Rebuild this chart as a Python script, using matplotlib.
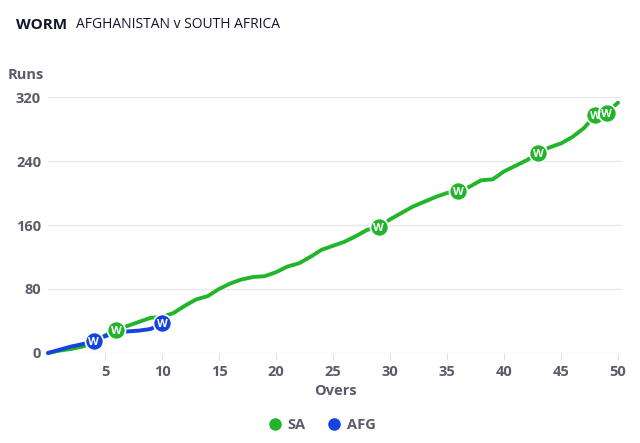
import numpy as np
import matplotlib
matplotlib.use("Agg")
import matplotlib.pyplot as plt
from matplotlib.lines import Line2D

plt.rcParams['font.family'] = ['Open Sans', 'DejaVu Sans']

# runs at the end of each over
sa_overs = list(range(0, 51))
sa_runs = [0, 3, 5, 8, 12, 22, 29, 34, 39, 44,
           45, 50, 59, 67, 71, 80, 87, 92, 95, 96,
           101, 108, 112, 120, 129, 134, 139, 146, 154, 157,
           167, 175, 183, 189, 195, 200, 202, 208, 216, 217,
           227, 234, 241, 250, 257, 262, 270, 281, 297, 300,
           313]
sa_wkts = [6, 29, 36, 43, 48, 49]

afg_overs = list(range(0, 11))
afg_runs = [0, 4, 8, 11, 15, 21, 25, 27, 28, 30, 37]
afg_wkts = [4, 10]

green = '#22b52c'
blue = '#1444e0'
grey = '#5b5b6b'

fig = plt.figure(figsize=(6.4, 4.43), dpi=100)
ax = fig.add_axes([48 / 640, 90 / 443, 574 / 640, 256 / 443])

ax.plot(sa_overs, sa_runs, color=green, lw=2.8, solid_capstyle='round', zorder=3, clip_on=False)
ax.plot(afg_overs, afg_runs, color=blue, lw=2.8, solid_capstyle='round', zorder=4, clip_on=False)


def wicket_marks(overs, runs, wkts, col, z):
    for w in wkts:
        y = runs[overs.index(w)]
        ax.plot(w, y, 'o', ms=13, color=col, mec='white', mew=1.2, zorder=z, clip_on=False)
        ax.text(w, y, 'W', color='white', fontsize=8, fontweight='bold',
                ha='center', va='center_baseline', zorder=z + 1)


wicket_marks(sa_overs, sa_runs, sa_wkts, green, 5)
wicket_marks(afg_overs, afg_runs, afg_wkts, blue, 7)

ax.set_xlim(0, 50.35)
ax.set_ylim(0, 320)
ax.set_xticks(range(5, 51, 5))
ax.set_yticks([0, 80, 160, 240, 320])
ax.grid(True, axis='y', color='#e8e8ec', lw=1)
ax.set_axisbelow(True)
for s in ax.spines.values():
    s.set_visible(False)
ax.tick_params(axis='y', length=0, pad=5, labelsize=10.5, labelcolor=grey)
ax.tick_params(axis='x', length=5, color='#e0e0e6', pad=4, labelsize=10.5, labelcolor=grey)
for lab in ax.get_xticklabels() + ax.get_yticklabels():
    lab.set_fontweight('bold')

ax.set_xlabel('Overs', fontsize=10.5, fontweight='bold', color=grey, labelpad=3)
fig.text(44 / 640, 1 - 75 / 443, 'Runs', fontsize=10.5, fontweight='bold', color=grey,
         ha='right', va='center')

fig.text(16 / 640, 1 - 25 / 443, 'WORM', fontsize=11, fontweight='bold', color='#14142b',
         va='center')
fig.text(76 / 640, 1 - 25 / 443, 'AFGHANISTAN v SOUTH AFRICA', fontsize=10, color='#14142b',
         va='center')

handles = [Line2D([], [], ls='none', marker='o', ms=8, color=green),
           Line2D([], [], ls='none', marker='o', ms=8, color=blue)]
leg = fig.legend(handles, ['SA', 'AFG'], loc='center', bbox_to_anchor=(0.5, 1 - 425 / 443),
                 ncol=2, frameon=False, handletextpad=0.1, columnspacing=1.2,
                 handlelength=1.5, prop={'size': 10.5, 'weight': 'bold'})
for t in leg.get_texts():
    t.set_color(grey)

fig.savefig('out.png', dpi=100)
